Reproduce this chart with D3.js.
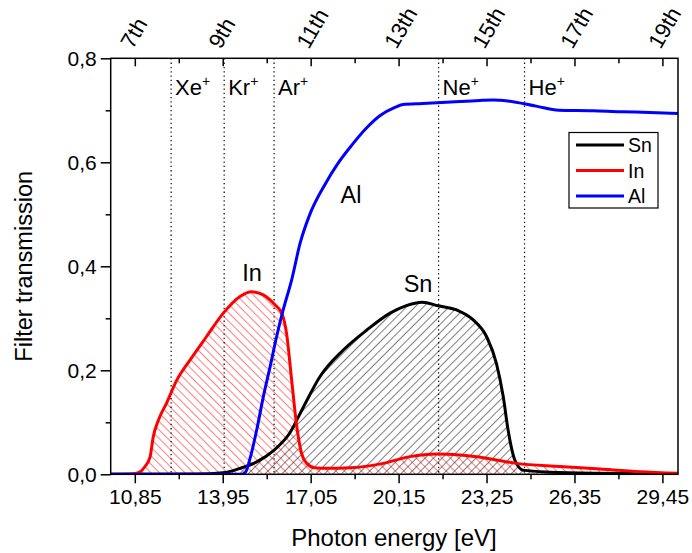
<!DOCTYPE html>
<html><head><meta charset="utf-8">
<script src="https://cdn.jsdelivr.net/npm/d3@7/dist/d3.min.js"></script>
<style>
body{margin:0;background:#fff;}
text{font-family:"Liberation Sans",Arial,sans-serif;fill:#000;}
</style></head>
<body><svg id="c" width="692" height="553"></svg>
<script>
// ---- data ----
const alEnergy = [10.0, 14.6, 14.75, 14.91, 15.15, 15.38, 15.62, 15.85, 16.08, 16.38, 16.68, 17.0, 17.55, 18.0, 18.5, 19.0, 19.5, 20.0, 20.3, 21.0, 22.0, 23.0, 23.5, 24.0, 25.0, 25.8, 27.0, 28.0, 29.0, 30.0];
const alValue  = [0, 0, 0.004, 0.03, 0.086, 0.149, 0.207, 0.265, 0.316, 0.374, 0.445, 0.497, 0.557, 0.597, 0.633, 0.665, 0.69, 0.705, 0.711, 0.713, 0.716, 0.719, 0.72, 0.718, 0.708, 0.70, 0.699, 0.697, 0.696, 0.694];

const inEnergy = [10.0, 10.8, 11.04, 11.21, 11.39, 11.5, 11.68, 11.97, 12.33, 12.8, 13.38, 13.97, 14.56, 14.97, 15.38, 15.79, 16.03, 16.2, 16.38, 16.56, 16.73, 16.91, 17.2, 17.6, 18.44, 19.61, 20.55, 21.49, 22.31, 23.25, 24.31, 25.84, 27.25, 28.66, 30.0];
const inValue  = [0, 0.001, 0.005, 0.015, 0.034, 0.072, 0.104, 0.137, 0.181, 0.22, 0.265, 0.31, 0.342, 0.351, 0.345, 0.326, 0.31, 0.271, 0.181, 0.092, 0.04, 0.021, 0.0125, 0.0115, 0.0125, 0.021, 0.034, 0.039, 0.037, 0.031, 0.021, 0.015, 0.01, 0.005, 0.002];

const snEnergy = [10.0, 13.0, 13.97, 14.56, 15.15, 15.73, 16.32, 16.8, 17.38, 18.2, 19.02, 19.85, 20.4, 20.98, 21.55, 22.2, 22.78, 23.25, 23.6, 23.84, 24.01, 24.25, 24.54, 25.5, 27.0, 30.0];
const snValue  = [0, 0.0005, 0.003, 0.0115, 0.024, 0.045, 0.08, 0.13, 0.188, 0.239, 0.277, 0.31, 0.324, 0.331, 0.324, 0.316, 0.297, 0.265, 0.213, 0.149, 0.085, 0.027, 0.008, 0.004, 0.002, 0.001];

const bottomTicks = [10.85, 13.95, 17.05, 20.15, 23.25, 26.35, 29.45];
const bottomTickLabels = ["10,85", "13,95", "17,05", "20,15", "23,25", "26,35", "29,45"];
const bottomMinor = [12.4, 15.5, 18.6, 21.7, 24.8, 27.9];
const topTickLabels = ["7th", "9th", "11th", "13th", "15th", "17th", "19th"];
const yTicks = [0, 0.2, 0.4, 0.6, 0.8];
const yTickLabels = ["0,0", "0,2", "0,4", "0,6", "0,8"];
const yMinor = [0.1, 0.3, 0.5, 0.7];
const ionNames = ["Xe", "Kr", "Ar", "Ne", "He"];
const ionEnergy = [12.13, 14.0, 15.76, 21.56, 24.59];
const seriesNames = ["Sn", "In", "Al"];
const seriesColors = ["#000000", "#ff0000", "#0000ff"];

// ---- layout ----
const L = 110.7, R = 678, T = 58.3, B = 474.3;
const x = d3.scaleLinear().domain([10, 30]).range([L, R]);
const y = d3.scaleLinear().domain([0, 0.8]).range([B, T]);
const svg = d3.select("#c");

const defs = svg.append("defs");
function hatch(id, color, angle, w) {
  const p = defs.append("pattern").attr("id", id).attr("patternUnits", "userSpaceOnUse")
    .attr("width", w).attr("height", w).attr("patternTransform", `rotate(${angle})`);
  p.append("line").attr("x1", 0).attr("y1", 0).attr("x2", 0).attr("y2", w)
    .attr("stroke", color).attr("stroke-width", 1);
}
hatch("hSn", "#000", 45, 6.0);
hatch("hIn", "#ff0000", -45, 6.0);

const clip = defs.append("clipPath").attr("id", "plotclip");
clip.append("rect").attr("x", L).attr("y", T).attr("width", R - L).attr("height", B - T);

const g = svg.append("g").attr("clip-path", "url(#plotclip)");
const curve = d3.curveMonotoneX;
const zip = (e, v) => e.map((d, i) => [d, v[i]]);
const area = d3.area().x(d => x(d[0])).y0(y(0)).y1(d => y(d[1])).curve(curve);
const line = d3.line().x(d => x(d[0])).y(d => y(d[1])).curve(curve);

const sn = zip(snEnergy, snValue), inn = zip(inEnergy, inValue), al = zip(alEnergy, alValue);
g.append("path").datum(sn).attr("d", area).attr("fill", "url(#hSn)");
g.append("path").datum(inn).attr("d", area).attr("fill", "url(#hIn)");

// ion dotted lines
ionEnergy.forEach(e => {
  g.append("line").attr("x1", x(e)).attr("x2", x(e)).attr("y1", T).attr("y2", B)
    .attr("stroke", "#000").attr("stroke-width", 1.2).attr("stroke-dasharray", "1.3,3");
});

g.append("path").datum(sn).attr("d", line).attr("fill", "none").attr("stroke", seriesColors[0]).attr("stroke-width", 3);
g.append("path").datum(inn).attr("d", line).attr("fill", "none").attr("stroke", seriesColors[1]).attr("stroke-width", 3);
g.append("path").datum(al).attr("d", line).attr("fill", "none").attr("stroke", seriesColors[2]).attr("stroke-width", 3);

// ion labels
ionEnergy.forEach((e, i) => {
  const t = svg.append("text").attr("x", x(e) + 4).attr("y", 95).attr("font-size", 22);
  t.append("tspan").text(ionNames[i]);
  t.append("tspan").attr("dy", -9).attr("font-size", 14).text("+");
});

// frame
svg.append("rect").attr("x", L).attr("y", T).attr("width", R - L).attr("height", B - T)
  .attr("fill", "none").attr("stroke", "#000").attr("stroke-width", 1.5);

// bottom axis
const bAxis = d3.axisBottom(x).tickValues(bottomTicks).tickSize(9).tickPadding(6)
  .tickFormat((d, i) => bottomTickLabels[i]);
const bg = svg.append("g").attr("transform", `translate(0,${B})`).call(bAxis);
bg.select(".domain").remove();
bg.selectAll(".tick line").attr("stroke-width", 1.5);
bg.selectAll(".tick text").attr("font-size", 21).attr("font-family", "Liberation Sans, Arial, sans-serif");
const bm = svg.append("g").attr("transform", `translate(0,${B})`)
  .call(d3.axisBottom(x).tickValues(bottomMinor).tickSize(5).tickFormat(""));
bm.select(".domain").remove();
bm.selectAll(".tick line").attr("stroke-width", 1.5);

// top axis (inward ticks)
const tAxis = d3.axisTop(x).tickValues(bottomTicks).tickSize(-8).tickFormat("");
const tg = svg.append("g").attr("transform", `translate(0,${T})`).call(tAxis);
tg.select(".domain").remove();
tg.selectAll(".tick line").attr("stroke-width", 1.5);
const tm = svg.append("g").attr("transform", `translate(0,${T})`)
  .call(d3.axisTop(x).tickValues(bottomMinor).tickSize(-5).tickFormat(""));
tm.select(".domain").remove();
tm.selectAll(".tick line").attr("stroke-width", 1.5);
bottomTicks.forEach((e, i) => {
  svg.append("text").attr("transform", `translate(${x(e) - 2},${50}) rotate(-60)`)
    .attr("text-anchor", "start").attr("font-size", 22).text(topTickLabels[i]);
});

// left axis
const lAxis = d3.axisLeft(y).tickValues(yTicks).tickSize(10).tickPadding(4)
  .tickFormat((d, i) => yTickLabels[i]);
const lg = svg.append("g").attr("transform", `translate(${L},0)`).call(lAxis);
lg.select(".domain").remove();
lg.selectAll(".tick line").attr("stroke-width", 1.5);
lg.selectAll(".tick text").attr("font-size", 21).attr("font-family", "Liberation Sans, Arial, sans-serif");
const lm = svg.append("g").attr("transform", `translate(${L},0)`)
  .call(d3.axisLeft(y).tickValues(yMinor).tickSize(5).tickFormat(""));
lm.select(".domain").remove();
lm.selectAll(".tick line").attr("stroke-width", 1.5);

// axis titles
svg.append("text").attr("x", 394).attr("y", 546).attr("text-anchor", "middle")
  .attr("font-size", 24).text("Photon energy [eV]");
svg.append("text").attr("transform", `translate(32,${(T + B) / 2}) rotate(-90)`)
  .attr("text-anchor", "middle").attr("font-size", 23.5).text("Filter transmission");

// in-plot labels
svg.append("text").attr("x", 252).attr("y", 281).attr("text-anchor", "middle").attr("font-size", 23.5).text("In");
svg.append("text").attr("x", 418).attr("y", 292).attr("text-anchor", "middle").attr("font-size", 23.5).text("Sn");
svg.append("text").attr("x", 351).attr("y", 203).attr("text-anchor", "middle").attr("font-size", 23.5).text("Al");

// legend
const lgd = svg.append("g");
lgd.append("rect").attr("x", 569).attr("y", 132.5).attr("width", 89).attr("height", 75.5)
  .attr("fill", "#fff").attr("stroke", "#000").attr("stroke-width", 1.2);
seriesNames.forEach((n, i) => {
  const yy = 145 + i * 25.5;
  lgd.append("line").attr("x1", 576).attr("x2", 624).attr("y1", yy).attr("y2", yy)
    .attr("stroke", seriesColors[i]).attr("stroke-width", 3);
  lgd.append("text").attr("x", 628).attr("y", yy + 7).attr("font-size", 19.5).text(n);
});
</script></body></html>
